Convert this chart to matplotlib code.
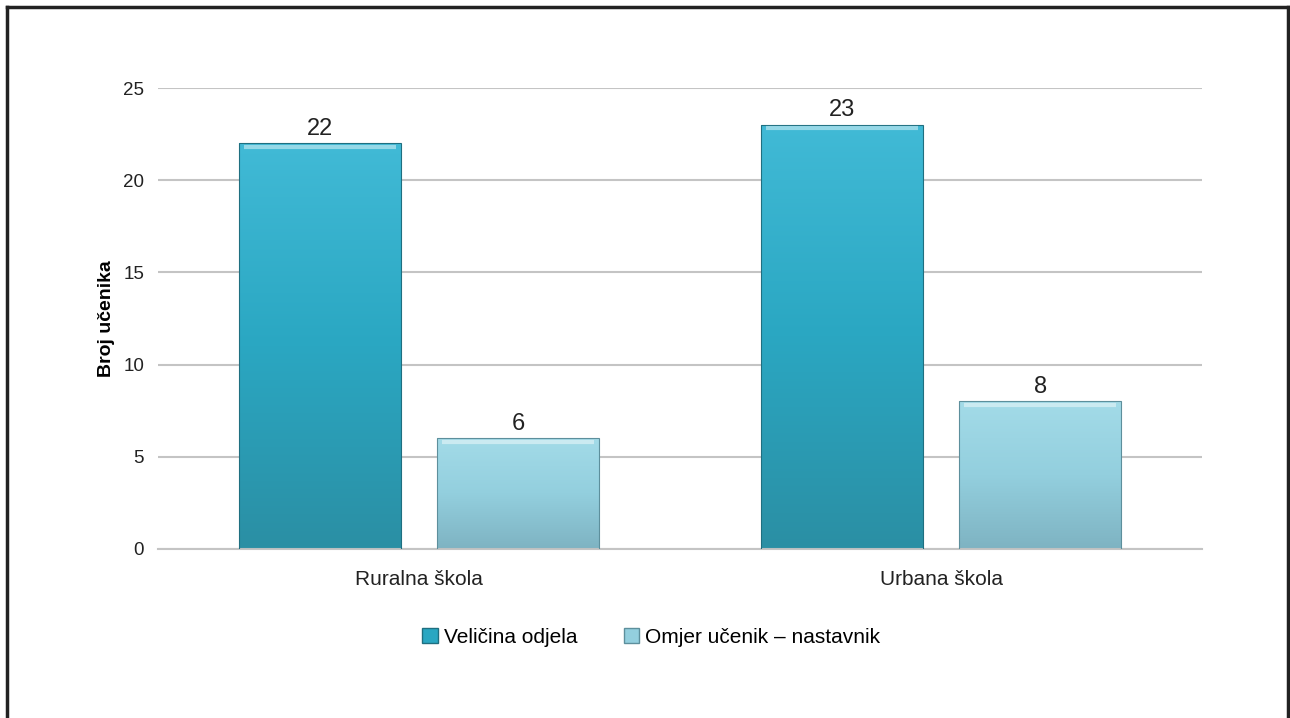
import numpy as np
import matplotlib.pyplot as plt
from matplotlib.colors import LinearSegmentedColormap
from matplotlib.patches import Patch
from matplotlib.lines import Line2D

plt.rcParams['font.family'] = ['Liberation Sans', 'DejaVu Sans']

categories = ["Ruralna škola", "Urbana škola"]
series_names = ["Veličina odjela", "Omjer učenik – nastavnik"]
velicina = [22, 23]
omjer = [6, 8]
yticks = [0, 5, 10, 15, 20, 25]

# top -> bottom gradient colours for each series
grad_dark = ["#41bad6", "#2aa7c2", "#2b8fa4"]
grad_light = ["#a3dbe8", "#93cfde", "#7eb3c2"]

fig = plt.figure(figsize=(12.9, 7.18), dpi=100)
ax = fig.add_axes([0.1225, 0.2354, 0.8093, 0.642])

x = np.arange(len(categories))
w = 0.31
off = 0.19
bars1 = ax.bar(x - off, velicina, w, color="none", edgecolor="#1f6f80", linewidth=0.8, zorder=3)
bars2 = ax.bar(x + off, omjer, w, color="none", edgecolor="#5d8f9c", linewidth=0.8, zorder=3)

ax.set_xlim(-0.5, 1.5)
ax.set_ylim(0, 25)

grad = np.linspace(0, 1, 256).reshape(-1, 1)
for bars, cols in [(bars1, grad_dark), (bars2, grad_light)]:
    cmap = LinearSegmentedColormap.from_list("g", cols)
    for b in bars:
        x0, y0 = b.get_x(), b.get_y()
        bw, bh = b.get_width(), b.get_height()
        im = ax.imshow(grad, cmap=cmap, extent=[x0, x0 + bw, y0, y0 + bh],
                       aspect="auto", zorder=2, origin="upper")
        im.set_clip_path(b)
        # bevel highlight along the top
        ax.plot([x0 + bw * 0.03, x0 + bw * 0.97], [y0 + bh - 0.18, y0 + bh - 0.18],
                color="white", alpha=0.45, lw=3, zorder=4, solid_capstyle="butt")
        ax.text(x0 + bw / 2, y0 + bh + 0.2, str(int(bh)), ha="center", va="bottom",
                fontsize=17, color="#222222", zorder=5)

ax.set_xlim(-0.5, 1.5)
ax.set_ylim(0, 25)
ax.set_yticks(yticks)
ax.set_xticks(x)
ax.set_xticklabels(categories, fontsize=15, color="#222222")
ax.tick_params(axis="y", length=0, pad=10, labelsize=13.5, labelcolor="#222222")
ax.tick_params(axis="x", length=0, pad=15)
ax.yaxis.grid(True, color="#c4c4c4", linewidth=1.5, zorder=0)
ax.set_axisbelow(True)
for s in ["top", "right", "left"]:
    ax.spines[s].set_visible(False)
ax.spines["bottom"].set_color("#c4c4c4")
ax.spines["bottom"].set_linewidth(1.5)
ax.set_ylabel("Broj učenika", fontsize=14, fontweight="bold", labelpad=6)

handles = [Patch(facecolor=grad_dark[1], edgecolor="#1f6f80"),
           Patch(facecolor=grad_light[1], edgecolor="#5d8f9c")]
fig.legend(handles, series_names, loc="center", bbox_to_anchor=(0.505, 0.112),
           ncol=2, frameon=False, fontsize=15, handlelength=0.75, handleheight=0.75,
           handletextpad=0.3, columnspacing=2.2)

# outer frame (open at the bottom)
fig.add_artist(Line2D([7 / 1290, 7 / 1290], [0, 1 - 7 / 718], color="#222222", lw=2.5))
fig.add_artist(Line2D([1288 / 1290, 1288 / 1290], [0, 1 - 7 / 718], color="#222222", lw=2.5))
fig.add_artist(Line2D([7 / 1290, 1288 / 1290], [1 - 7 / 718, 1 - 7 / 718], color="#222222", lw=2.5))

fig.savefig("out.png", dpi=100)
